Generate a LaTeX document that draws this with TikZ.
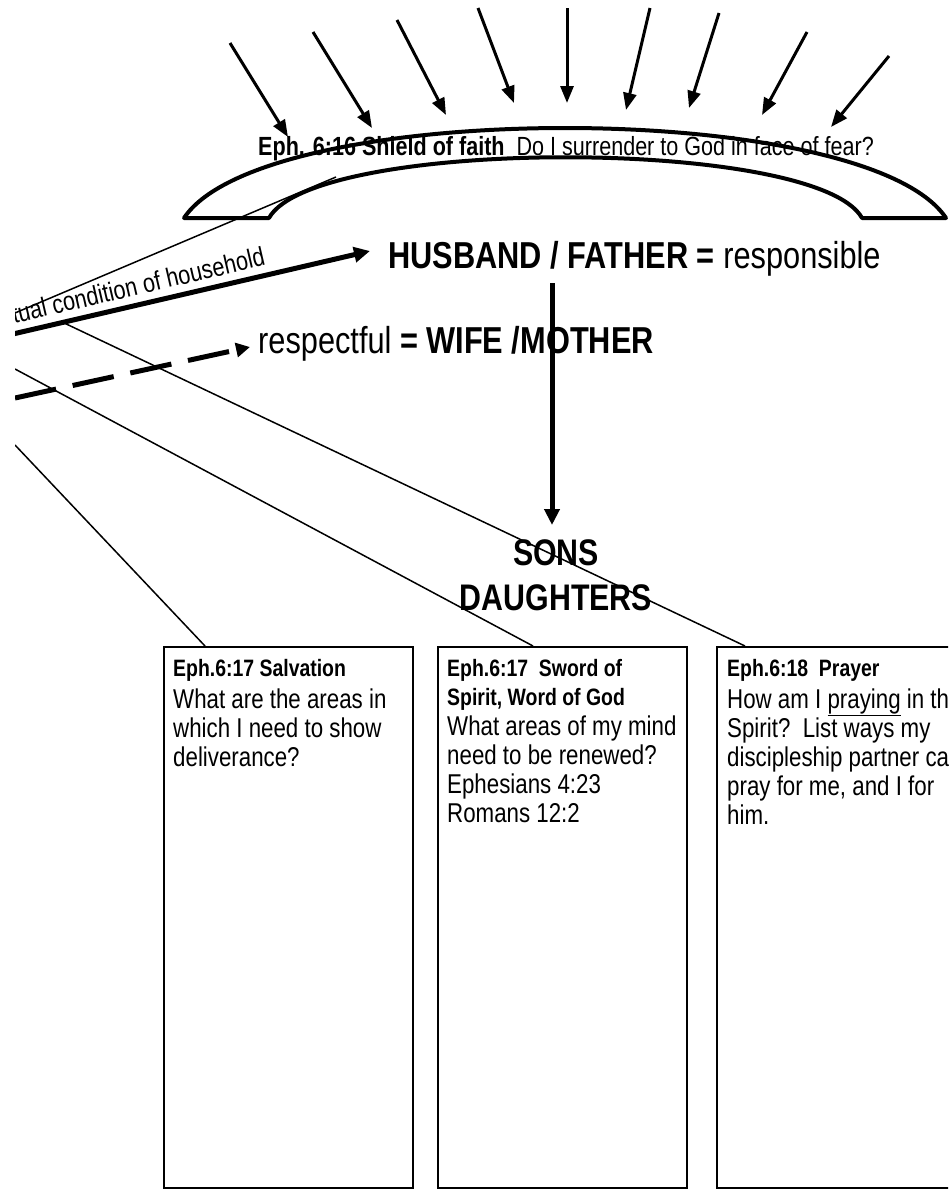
\documentclass[tikz,border=0pt]{standalone}
\usepackage{fontspec}
\setmainfont{Liberation Sans}[FakeStretch=0.82]
\usetikzlibrary{arrows.meta,calc}
\tikzset{
  conn/.style={line width=1.5pt},
  bigarr/.style={line width=5pt,-{Triangle[length=16pt,width=15pt]}},
  dasharr/.style={line width=5pt,dash pattern=on 42pt off 17pt,-{Triangle[length=14pt,width=14pt]}},
  rayarr/.style={line width=3pt,-{Triangle[length=17pt,width=13pt]}},
  shieldline/.style={line width=4pt,line join=round},
  card/.style={draw,line width=1.5pt,minimum width=249pt,minimum height=541pt,anchor=north west,inner sep=0pt},
  cardtext/.style={anchor=north west,align=left,inner sep=0pt,font=\fontsize{27.2}{29}\selectfont},
  head/.style={font=\fontsize{37.5}{45}\selectfont,inner sep=0pt},
}
\newcommand{\hd}[1]{{\fontsize{23.7}{28}\selectfont\bfseries #1}}
\begin{document}
\begin{tikzpicture}[x=1pt,y=-1pt]
\useasboundingbox (0,0) rectangle (948,1197);
\clip (0,0) rectangle (948,1197);

% rays of attack
\foreach \sx/\sy/\ex/\ey in {230/43/288/137, 313/32/372/128, 397/20/446/115, 478/8/514/103, 567/8/567/103, 650/8/626/110, 719/13/689/108, 807/32/762/115, 889/56/831/127}
  \draw[rayarr] (\sx,\sy) -- (\ex,\ey);

% shield
\draw[shieldline] (184,218) .. controls (264,98) and (866,98) .. (946,218) -- (862,218)
   .. controls (817,137) and (314,137) .. (269,218) -- cycle;
\node[anchor=base west,inner sep=0pt,font=\fontsize{26.3}{30}\selectfont] (shield) at (258,155)
   {\textbf{Eph. 6:16 Shield of faith}\ \ Do I surrender to God in face of fear?};

% main texts
\node[head,anchor=base west] (husband) at (388,268) {\textbf{HUSBAND / FATHER =} responsible};
\node[head,anchor=base west] (wife) at (258,353) {respectful \textbf{= WIFE /MOTHER}};
\node[head,font=\bfseries\fontsize{37}{45}\selectfont,align=center,anchor=north] (sons) at (556,539) {SONS\\DAUGHTERS};

% boxes
\node[card] (box1) at (163,646) {};
\node[card] (box2) at (437,646) {};
\node[card] (box3) at (716,646) {};

\node[cardtext] (t1) at (173,659) {\hd{Eph.6:17 Salvation}\\[3pt]
What are the areas in\\which I need to show\\deliverance?};
\node[cardtext] (t2) at (447,659) {\hd{Eph.6:17\ \ Sword of}\\\hd{Spirit, Word of God}\\[1pt]
What areas of my mind\\need to be renewed?\\Ephesians 4:23\\Romans 12:2};
\node[cardtext] (t3) at (727,659) {\hd{Eph.6:18\ \ Prayer}\\[3pt]
How am I \underline{praying} in the\\Spirit?\ \ List ways my\\discipleship partner can\\pray for me, and I for\\him.};

% vertical connector
\coordinate (vtop) at (552,283);
\draw[bigarr,shorten >=14pt] (vtop) -- (vtop |- sons.north);

% left-side connectors, cut at the left edge
\begin{scope}
\clip (15,0) rectangle (948,1197);
\coordinate (hsrc) at (0,337);
\coordinate (htip) at ($(husband.base west)+(-18,-17)$);
\draw[bigarr] (hsrc) -- node[sloped,above=7pt,pos=0.385,inner sep=0pt,font=\fontsize{26.5}{30}\selectfont] (lbl) {tual condition of household} (htip);
\coordinate (wsrc) at (15,398);
\coordinate (wtip) at ($(wife.base west)+(-8,-6)$);
\draw[dasharr] (wsrc) -- (wtip);
\coordinate (s0) at (15,313);
\coordinate (s1) at (15,445);
\coordinate (s2) at (15,369);
\coordinate (s3) at ($(hsrc)!0.17!(htip)$);
\coordinate (shieldend) at (336,177);
\draw[conn] (s0) -- (shieldend);
\draw[conn] (s1) -- ($(box1.north west)+(42,0)$);
\draw[conn] (s2) -- ($(box2.north west)+(96,0)$);
\draw[conn] (s3) -- ($(box3.north west)+(29,0)$);
\end{scope}
\end{tikzpicture}
\end{document}
